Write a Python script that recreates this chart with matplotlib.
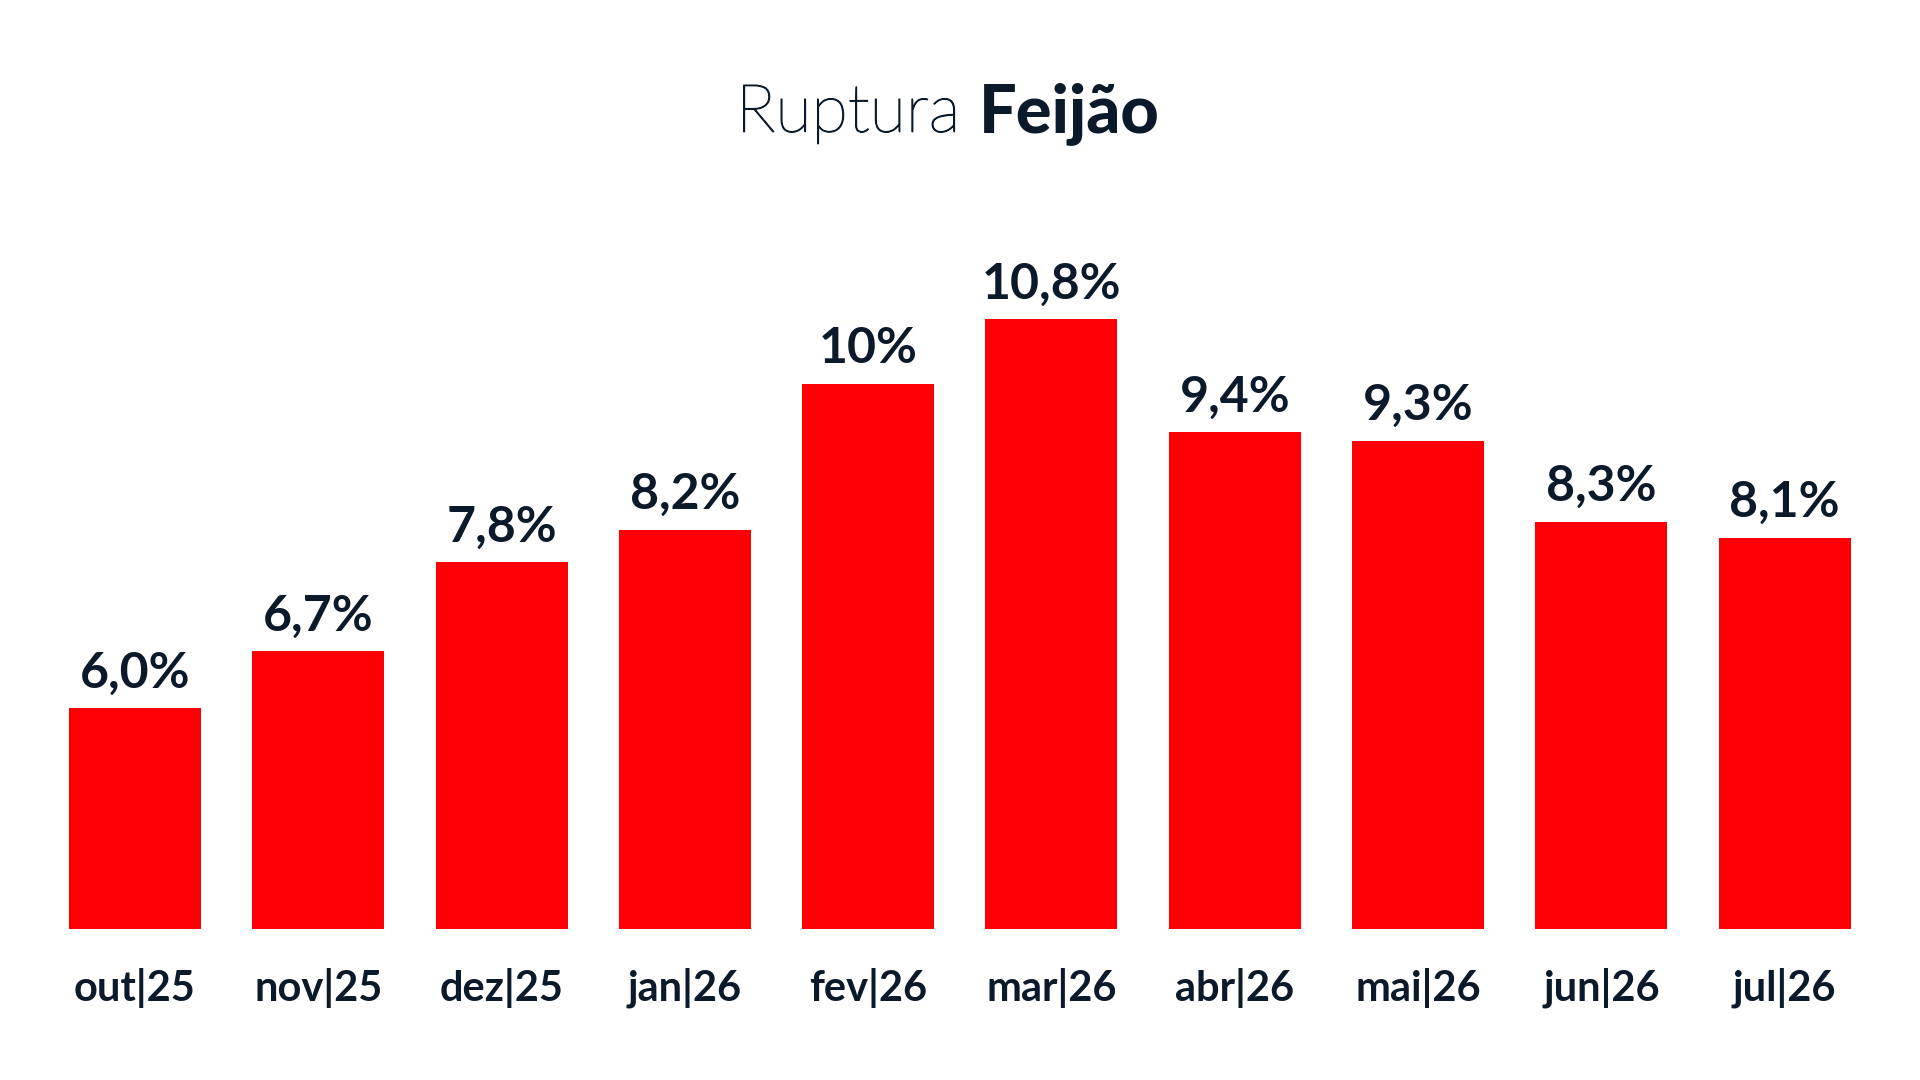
import matplotlib
matplotlib.use("Agg")
import matplotlib.pyplot as plt
import matplotlib.patheffects as pe

# data
months = ["out|25", "nov|25", "dez|25", "jan|26", "fev|26",
          "mar|26", "abr|26", "mai|26", "jun|26", "jul|26"]
values = [6.0, 6.7, 7.8, 8.2, 10.0, 10.8, 9.4, 9.3, 8.3, 8.1]
value_labels = ["6,0%", "6,7%", "7,8%", "8,2%", "10%",
                "10,8%", "9,4%", "9,3%", "8,3%", "8,1%"]

RED = "#fe0004"
NAVY = "#0b1a2a"

plt.rcParams["font.family"] = ["Lato", "DejaVu Sans"]

fig = plt.figure(figsize=(19.2, 10.8), dpi=100)
ax = fig.add_axes([0.02255, 0.1398, 0.9547, 0.675])

x = range(len(months))
ax.bar(x, values, width=0.72, color=RED, zorder=2)

for xi, v, lab in zip(x, values, value_labels):
    ax.annotate(lab, (xi, v), xytext=(0, 9), textcoords="offset points",
                ha="center", va="bottom", fontsize=36, fontweight="bold",
                color=NAVY)

ax.set_xlim(-0.5, len(months) - 0.5)
ax.set_ylim(3.27, 12.27)
ax.set_xticks(list(x))
ax.set_xticklabels(months, fontsize=30, fontweight="bold", color=NAVY)
ax.tick_params(axis="x", length=0, pad=28)
ax.set_yticks([])
for s in ax.spines.values():
    s.set_visible(False)

# title: light + black weight pieces
t1 = fig.text(0.5, 0.878, "Ruptura ", fontsize=48, fontweight="light",
              color=NAVY, ha="left", va="baseline",
              path_effects=[pe.withStroke(linewidth=0.9, foreground=NAVY)])
t2 = fig.text(0.5, 0.878, "Feijão", fontsize=48, fontweight="black",
              color=NAVY, ha="left", va="baseline")
fig.canvas.draw()
r = fig.canvas.get_renderer()
w1 = t1.get_window_extent(r).width
w2 = t2.get_window_extent(r).width
left = (948 - (w1 + w2) / 2) / fig.bbox.width
t1.set_x(left)
t2.set_x(left + w1 / fig.bbox.width)

fig.savefig("out.png", dpi=100, facecolor="white")
